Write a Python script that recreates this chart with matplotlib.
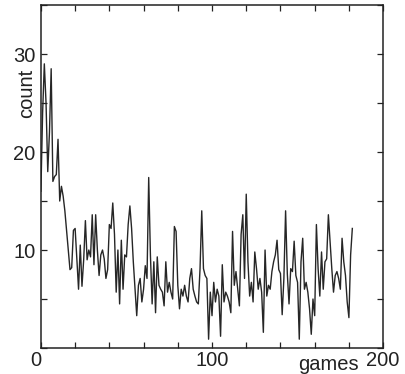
import matplotlib
matplotlib.use('Agg')
import matplotlib.pyplot as plt
import numpy as np

plt.rcParams['font.family'] = ['Liberation Sans', 'DejaVu Sans']

# count per game
early_counts = [16, 24, 29, 25, 18, 22, 28.5, 17, 17.5, 17.7,
                21.3, 15, 16.5, 15.5, 14, 12, 10, 8, 8.2, 12,
                12.2, 9, 6, 10.5, 6.3, 9, 13, 9, 10, 9.3,
                13.6, 8.5, 13.6, 10]
mid_counts = [7.4, 9.5, 10, 9.1, 7.1, 8, 12.6, 12.2, 14.8, 11.6,
              5.7, 10, 4.5, 11, 6, 9.5, 9.3, 12.6, 14.5, 12.2,
              8.8, 6, 3.3, 6.4, 7.1, 4.7, 6, 8.4, 7.1, 17.4,
              9.5, 4.5, 8.8, 3.6, 9.3, 6.4, 6, 5.7, 4.3, 8.8,
              5.7, 6.7, 5.7, 5, 12.4, 11.9, 6.4]
late_counts = [4, 6, 5.3, 6.4, 5.3, 4.7, 7.1, 8.1, 6, 5.3,
               4.7, 4.5, 8.1, 14, 8.1, 7.4, 7.1, 0.9, 5.7, 3.3,
               6.7, 4.7, 6, 5.3, 1.2, 8.5, 4.7, 5.7, 5.3, 4.7,
               3.6, 11.9, 6.4, 7.8, 6, 4.3, 11.6, 13.6, 7.1, 15.7,
               8.8, 5.3, 6.7, 4.7, 9.8, 8.1, 6, 7.1, 5.7, 1.6,
               10, 5.3, 6.4, 6, 7.8, 8.8, 9.5, 11, 8, 7.6,
               3.4, 7.1, 14, 7.6, 4.5, 8.1, 7.8, 10.9, 7.4, 6.7,
               0.9, 8.8, 11.2, 6, 6.7, 5.7, 4, 1.4, 5, 3.3,
               12.6, 8.1, 5.3, 9.8, 6, 8.8, 9.1, 13.6, 10.9, 8.1,
               5.7, 7.4, 7.8, 7.1, 6, 11.2, 8.8, 7.4, 4.7, 3.1,
               9.5, 12.2]
counts = early_counts + mid_counts + late_counts
games = np.arange(len(counts))

x_labels = ['0', '100', '200']
y_labels = ['10', '20', '30']

fig = plt.figure(figsize=(4.05, 3.74), dpi=100)
ax = fig.add_axes([0.101, 0.0695, 0.845, 0.917])

ax.plot(games, counts, color='#262626', lw=1.0)

ax.set_xlim(0, 200)
ax.set_ylim(0, 35)
ax.set_xticks([0, 100, 200])
ax.set_xticklabels(x_labels)
ax.set_yticks([10, 20, 30])
ax.set_yticklabels(y_labels)
ax.set_xticks(np.arange(0, 201, 20), minor=True)
ax.set_yticks(np.arange(0, 36, 5), minor=True)

ax.tick_params(which='both', direction='in', top=True, right=True,
               length=4, width=0.9, colors='#222222', labelsize=14.5)
ax.tick_params(axis='x', pad=2)
ax.tick_params(axis='y', pad=4)
ax.get_xticklabels()[0].set_horizontalalignment('right')
for s in ax.spines.values():
    s.set_linewidth(1.1)
    s.set_color('#222222')

ax.text(0.839, -0.048, 'games', transform=ax.transAxes, ha='center',
        va='center', fontsize=14.5, color='#222222')
ax.text(-0.043, 0.743, 'count', transform=ax.transAxes, ha='center',
        va='center', rotation=90, fontsize=14.5, color='#222222')

fig.savefig('out.png', dpi=100)
